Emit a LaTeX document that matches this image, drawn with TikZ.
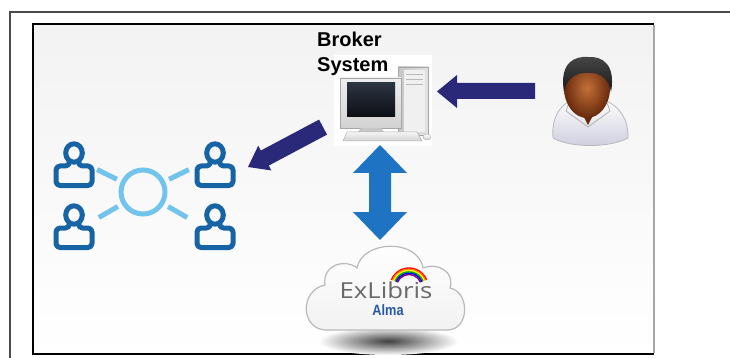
\documentclass[tikz,border=0pt]{standalone}
\usepackage{fontspec}
\setmainfont{Liberation Sans}
\newfontfamily\logofont{Open Sans}
\usetikzlibrary{calc}

\definecolor{navy}{RGB}{42,40,120}
\definecolor{linkblue}{RGB}{30,115,195}
\definecolor{icondark}{RGB}{22,100,165}
\definecolor{iconlight}{RGB}{115,196,236}
\definecolor{logogray}{RGB}{105,105,108}
\definecolor{almablue}{RGB}{40,90,160}
\definecolor{skin}{RGB}{196,112,56}
\definecolor{skindark}{RGB}{104,42,12}
\definecolor{hair}{RGB}{70,70,70}
\definecolor{shirt}{RGB}{205,205,222}

\tikzset{
  navyarrow/.style={fill=navy},
  bluearrow/.style={fill=linkblue},
  iconline/.style={draw=icondark, line width=5, line join=round},
  linkline/.style={draw=iconlight, line width=5},
  caption/.style={font=\fontsize{20}{24}\selectfont\bfseries, inner sep=0pt, anchor=base west},
}

% one member of the user group: head plus shoulders
\newcommand\peericon[3]{%
  \coordinate (#1) at (#2,#3);
  \begin{scope}[shift={(#1)}]
    \draw[iconline] (0,1) ellipse [x radius=8.3, y radius=9.2];
    \draw[iconline, rounded corners=4]
      (-4.5,9) -- (-4.5,14) -- (-18,14) -- (-18,33.5) --
      (18,33.5) -- (18,14) -- (4.5,14) -- (4.5,9);
  \end{scope}}

\begin{document}
\begin{tikzpicture}[x=1pt,y=-1pt]
\useasboundingbox (0,0) rectangle (730,358);
\fill[white] (0,0) rectangle (730,358);

% outer page frame
\draw[black!70, line width=1.4] (730,12) -- (10,12) -- (10,358);

% slide panel
\shade[top color=gray!10, bottom color=white] (33,24) rectangle (654,354);
\draw[black, line width=1.6] (654,24) -- (33,24) -- (33,354) -- (654,354);
\draw[gray!70, line width=2.2] (654,25) -- (654,353);

% ---------- user group ----------
\node[circle, draw=iconlight, line width=5, minimum size=44, inner sep=0pt] (hub) at (143,192) {};
\peericon{tl}{74}{152}
\peericon{bl}{74}{214}
\peericon{tr}{215}{152}
\peericon{br}{215}{214}
\draw[linkline] ($(hub)+(206:29)$) -- ($(hub)+(206:51)$);
\draw[linkline] ($(hub)+(150:29)$) -- ($(hub)+(150:51)$);
\draw[linkline] ($(hub)+(334:29)$) -- ($(hub)+(334:51)$);
\draw[linkline] ($(hub)+(30:29)$) -- ($(hub)+(30:51)$);

% ---------- broker computer ----------
\fill[white] (334,55) rectangle (432,146);
% tower
\shade[left color=gray!45, right color=gray!22, draw=gray!70, line width=0.6] (398,67) rectangle (428,135);
\fill[gray!12] (404,70) rectangle (425,132);
\foreach \yy in {74,79,84} \draw[gray!55, line width=0.9] (406,\yy) -- (423,\yy);
% monitor
\shade[top color=gray!12, bottom color=gray!35, draw=gray!70, line width=0.6] (340,78) rectangle (401,128);
\shade[top color={rgb,255:red,45;green,52;blue,66}, bottom color={rgb,255:red,12;green,14;blue,20}] (347,83) rectangle (395,117);
\fill[gray!45] (361,128) -- (381,128) -- (385,133) -- (357,133) -- cycle;
% keyboard and mouse
\shade[top color=gray!8, bottom color=gray!35, draw=gray!60, line width=0.5] (347,132) -- (417,132) -- (422,141) -- (343,141) -- cycle;
\shade[top color=white, bottom color=gray!40, draw=gray!60, line width=0.4] (427,137) ellipse [x radius=4, y radius=3];
\coordinate (broker) at (384,100);

\node[caption] (t1) at (317,47) {Broker};
\node[caption] (t2) at (317,72) {System};

% ---------- person ----------
\shade[top color=white, bottom color=shirt, draw=gray!55, line width=0.8]
  (553,138) .. controls (551,115) and (563,101) .. (578,98) -- (597,98)
  .. controls (614,101) and (629,115) .. (628,138)
  .. controls (610,148) and (570,148) .. cycle;
\fill[skindark] (575,100) -- (588,125) -- (601,100) -- cycle;
\draw[gray!60, line width=0.8, line join=round] (570,100) -- (566,111) -- (588,127) -- (610,111) -- (606,100);
\shade[inner color=skin, outer color=skindark] (587,88) ellipse [x radius=23, y radius=30];
\shade[top color=hair, bottom color=black!90]
  (564,92) .. controls (559,62) and (575,56) .. (588,57)
  .. controls (602,56) and (616,64) .. (611,92)
  .. controls (609,79) and (600,72) .. (588,73)
  .. controls (576,72) and (566,79) .. cycle;
\coordinate (user) at (588,100);

% ---------- Alma cloud ----------
\shade[inner color=black!75, outer color=white] (388,341) ellipse [x radius=70, y radius=14];
\shade[top color=white, bottom color=gray!10, draw=gray!55, line width=1.2]
  (325,330) .. controls (300,328) and (300,290) .. (325,285)
  .. controls (322,265) and (345,258) .. (357,268)
  .. controls (362,240) and (418,238) .. (423,268)
  .. controls (438,262) and (455,272) .. (450,288)
  .. controls (470,292) and (470,330) .. (447,330) -- cycle;
\foreach \c/\r in {red/19, orange/17.7, yellow/16.4, green!70!black/15.1, blue/13.8, violet/12.5}
  \draw[\c, line width=1.4] ($(409,287)+(202:\r)$) arc [start angle=202, end angle=338, radius=\r];
\node[inner sep=0pt, anchor=base, text=logogray, font=\logofont\fontsize{22}{24}\selectfont] (exl) at (386,298) {\scalebox{1.17}[1]{ExLibris}};
\node[inner sep=0pt, anchor=base, text=almablue, font=\bfseries\fontsize{15}{17}\selectfont] (alma) at (388,315) {\scalebox{0.85}[1]{Alma}};
\coordinate (cloud) at (384,290);

% ---------- arrows ----------
% user to broker
\path[navyarrow] (535,83) -- (457,83) -- (457,75) -- (437,91.5) -- (457,108) -- (457,99) -- (535,99) -- cycle;
% broker to user group
\begin{scope}[shift={(248,167)}, rotate=28]
  \path[navyarrow] (0,0) -- (19,14) -- (19,8.5) -- (85,8.5) -- (85,-8.5) -- (19,-8.5) -- (19,-14) -- cycle;
\end{scope}
% broker <-> Alma
\path[bluearrow] (380,145) -- (407,173) -- (391,173) -- (391,212) -- (407,212) -- (380,240)
  -- (353,212) -- (369,212) -- (369,173) -- (353,173) -- cycle;
\end{tikzpicture}
\end{document}
